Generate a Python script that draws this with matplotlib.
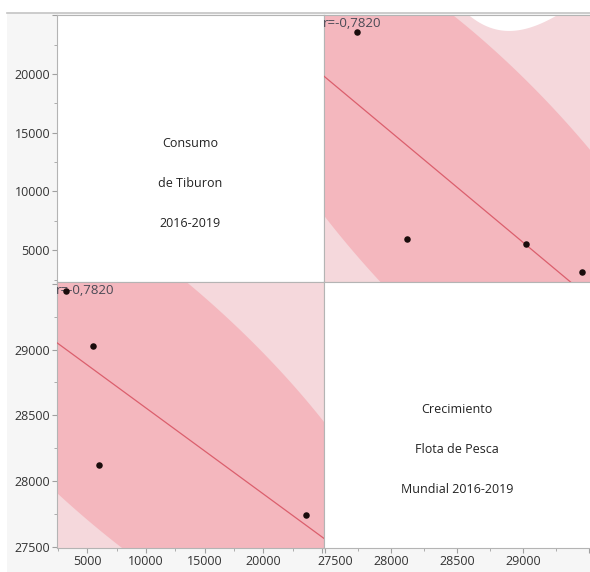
import numpy as np
import matplotlib
matplotlib.use("Agg")
import matplotlib.pyplot as plt
from matplotlib.patches import Polygon, Rectangle
from matplotlib.lines import Line2D
from matplotlib.transforms import ScaledTranslation

plt.rcParams['font.family'] = ['Open Sans', 'DejaVu Sans']

# Datos (2016-2019)
anios = [2016, 2017, 2018, 2019]
flota = [27740, 28122, 29024, 29450]      # Crecimiento Flota de Pesca Mundial
consumo = [23620, 5955, 5500, 3170]       # Consumo de Tiburon

label_consumo = ["Consumo", "de Tiburon", "2016-2019"]
label_flota = ["Crecimiento", "Flota de Pesca", "Mundial 2016-2019"]
r_text = "r=-0,7820"

consumo_ticks = [5000, 10000, 15000, 20000, 25000]
consumo_labels = ["5000", "10000", "15000", "20000", ""]
consumo_minor = [2500, 7500, 12500, 17500, 22500]
flota_ticks = [27500, 28000, 28500, 29000, 29500]
flota_labels = ["27500", "28000", "28500", "29000", ""]
flota_minor = [27750, 28250, 28750, 29250]

# estilos
c_dark = '#f4b7be'
c_light = '#f5d8dc'
c_line = '#db5f6d'
c_text = '#333333'
c_spine = '#b4b4b4'
t_975 = 4.303     # t(0.975, gl=2)
chi2_95 = 5.991   # chi2(0.95, gl=2)

cons_xlim = (2400, 25180)
cons_ylim = (2290, 25030)
flota_lim = (27490, 29515)

fig = plt.figure(figsize=(5.9, 5.72), dpi=100)
fig.patches.append(Rectangle((7/590, 0), 1, 1 - 13/572, transform=fig.transFigure,
                             facecolor='#f6f6f6', edgecolor='none', zorder=-10))
fig.lines.append(Line2D([7/590, 1], [1 - 13/572, 1 - 13/572], transform=fig.transFigure,
                        color='#c4c4c4', lw=1.2))

W, H = 267/590, 267/572
ax_tl = fig.add_axes([57/590, 1 - 282/572, W, H])
ax_tr = fig.add_axes([324/590, 1 - 282/572, W, H])
ax_bl = fig.add_axes([57/590, 1 - 548/572, W, 266/572])
ax_br = fig.add_axes([324/590, 1 - 548/572, W, 266/572])

for ax in (ax_tl, ax_tr, ax_bl, ax_br):
    ax.set_facecolor('white')
    for s in ax.spines.values():
        s.set_color(c_spine)
        s.set_linewidth(0.8)
    ax.tick_params(which='both', color='#a0a0a0', labelcolor=c_text, labelsize=9, pad=1.5)
    ax.tick_params(which='major', length=3.5)
    ax.tick_params(which='minor', length=2)
    ax.set_xticks([])
    ax.set_yticks([])


def panel(ax, x, y, xlim, ylim, txt_x):
    x = np.array(x, float)
    y = np.array(y, float)
    n = len(x)
    xm, ym = x.mean(), y.mean()
    sxx = ((x - xm) ** 2).sum()
    sxy = ((x - xm) * (y - ym)).sum()
    b = sxy / sxx
    a = ym - b * xm
    s = np.sqrt(((y - (a + b * x)) ** 2).sum() / (n - 2))
    xs = np.linspace(xlim[0] - 50, xlim[1] + 50, 300)
    yh = a + b * xs
    hw = t_975 * s * np.sqrt(1 / n + (xs - xm) ** 2 / sxx)
    ax.fill_between(xs, yh - hw, yh + hw, color=c_light, lw=0, zorder=1)

    # elipse de densidad 95%
    cov = np.cov(x, y)
    vals, vecs = np.linalg.eigh(cov)
    th = np.linspace(0, 2 * np.pi, 400)
    circ = np.vstack([np.cos(th), np.sin(th)]) * np.sqrt(vals * chi2_95)[:, None]
    pts = (vecs @ circ).T + [xm, ym]
    ax.add_patch(Polygon(pts, closed=True, facecolor=c_dark, edgecolor='none', zorder=2))

    ax.plot(xs, yh, color=c_line, lw=0.9, zorder=3)
    ax.text(txt_x, 0.968, r_text, transform=ax.transAxes, fontsize=9.5,
            color='#4a4a55', va='center', ha='left', zorder=4, clip_on=True)
    ax.scatter(x, y, s=22, color='#1a0c0c', zorder=5, linewidths=0)
    ax.set_xlim(xlim)
    ax.set_ylim(ylim)


panel(ax_tr, flota, consumo, flota_lim, cons_ylim, -0.006)
panel(ax_bl, consumo, flota, cons_xlim, flota_lim, -0.004)

for ax, lines in ((ax_tl, label_consumo), (ax_br, label_flota)):
    for k, t in enumerate(lines):
        ax.text(0.498, 0.52 - 0.15 * k, t, transform=ax.transAxes, fontsize=9,
                color='#222222', ha='center', va='center')

# ejes
ax_tl.set_xlim(cons_xlim)
ax_tl.set_ylim(cons_ylim)
ax_tl.set_yticks(consumo_ticks)
ax_tl.set_yticklabels(consumo_labels)
ax_tl.set_yticks(consumo_minor, minor=True)

ax_bl.set_yticks(flota_ticks)
ax_bl.set_yticklabels(flota_labels)
ax_bl.set_yticks(flota_minor, minor=True)
ax_bl.set_xticks(consumo_ticks)
ax_bl.set_xticklabels(consumo_labels)
ax_bl.set_xticks(consumo_minor, minor=True)

ax_br.set_xlim(flota_lim)
ax_br.set_ylim(flota_lim)
ax_br.set_xticks(flota_ticks)
ax_br.set_xticklabels(flota_labels)
ax_br.set_xticks(flota_minor, minor=True)
lab = ax_br.get_xticklabels()[0]
lab.set_transform(lab.get_transform() + ScaledTranslation(10/100, 0, fig.dpi_scale_trans))

fig.savefig("out.png", dpi=100)
